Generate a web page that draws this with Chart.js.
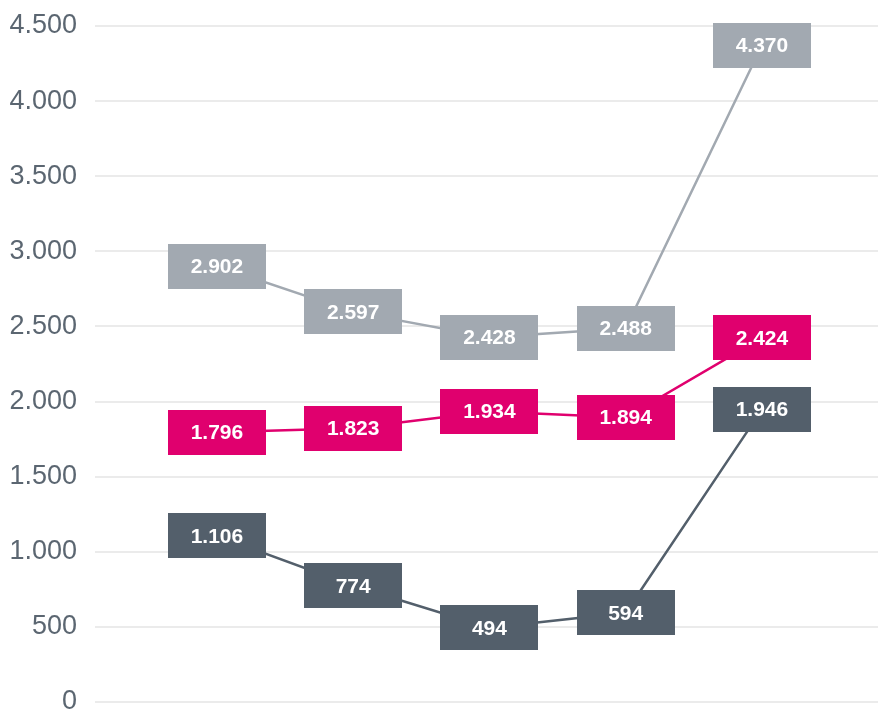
<!DOCTYPE html>
<html>
<head>
<meta charset="utf-8">
<script src="https://cdn.jsdelivr.net/npm/chart.js@4/dist/chart.umd.min.js"></script>
<style>
  html, body { margin: 0; padding: 0; background: #fff; }
  #wrap { width: 878px; height: 711px; }
</style>
</head>
<body>
<div id="wrap"><canvas id="chart"></canvas></div>
<script>
const categories = ['1', '2', '3', '4', '5'];
const seriesTop = [2902, 2597, 2428, 2488, 4370];
const seriesMid = [1796, 1823, 1934, 1894, 2424];
const seriesLow = [1106, 774, 494, 594, 1946];
const yTicks = [0, 500, 1000, 1500, 2000, 2500, 3000, 3500, 4000, 4500];

const colors = { top: '#a2a9b1', mid: '#e0006e', low: '#535f6b' };

function fmt(v) {
    return String(Math.round(v)).replace(/\B(?=(\d{3})+(?!\d))/g, '.');
}

function toPoints(values) {
    return values.map((v, i) => ({ x: i, y: v }));
}

const boxLabels = {
    id: 'boxLabels',
    afterDatasetsDraw(chart) {
        const ctx = chart.ctx;
        ctx.save();
        ctx.font = 'bold 21px "Liberation Sans", Arial, sans-serif';
        ctx.textAlign = 'center';
        ctx.textBaseline = 'middle';
        chart.data.datasets.forEach((ds, di) => {
            const meta = chart.getDatasetMeta(di);
            meta.data.forEach((pt, i) => {
                const w = 98, h = 45;
                ctx.fillStyle = ds.borderColor;
                ctx.fillRect(Math.round(pt.x - w / 2), Math.round(pt.y - h / 2), w, h);
                ctx.fillStyle = '#ffffff';
                ctx.fillText(fmt(ds.data[i].y), pt.x, pt.y + 1);
            });
        });
        ctx.restore();
    }
};

function makeDataset(values, color) {
    return {
        data: toPoints(values),
        borderColor: color,
        backgroundColor: color,
        borderWidth: 2.5,
        pointRadius: 0,
        tension: 0
    };
}

new Chart(document.getElementById('chart'), {
    type: 'line',
    data: {
        labels: categories,
        datasets: [
            makeDataset(seriesTop, colors.top),
            makeDataset(seriesMid, colors.mid),
            makeDataset(seriesLow, colors.low)
        ]
    },
    options: {
        responsive: true,
        maintainAspectRatio: false,
        animation: false,
        layout: { padding: { top: 26, right: 0, bottom: 9, left: 0 } },
        plugins: { legend: { display: false }, tooltip: { enabled: false } },
        scales: {
            x: {
                type: 'linear',
                min: -0.895,
                max: 4.852,
                display: false
            },
            y: {
                min: 0,
                max: 4500,
                afterBuildTicks: axis => { axis.ticks = yTicks.map(v => ({ value: v })); },
                afterFit: axis => {
                    axis.width = 95;
                    axis.paddingTop = 0;
                    axis.paddingBottom = 0;
                },
                border: { display: false },
                grid: { color: '#ebebeb', lineWidth: 2, drawTicks: false },
                ticks: {
                    padding: 18,
                    color: '#5b6671',
                    font: { size: 27, family: '"Liberation Sans", Arial, sans-serif' },
                    callback: v => fmt(v)
                }
            }
        }
    },
    plugins: [boxLabels]
});
</script>
</body>
</html>
